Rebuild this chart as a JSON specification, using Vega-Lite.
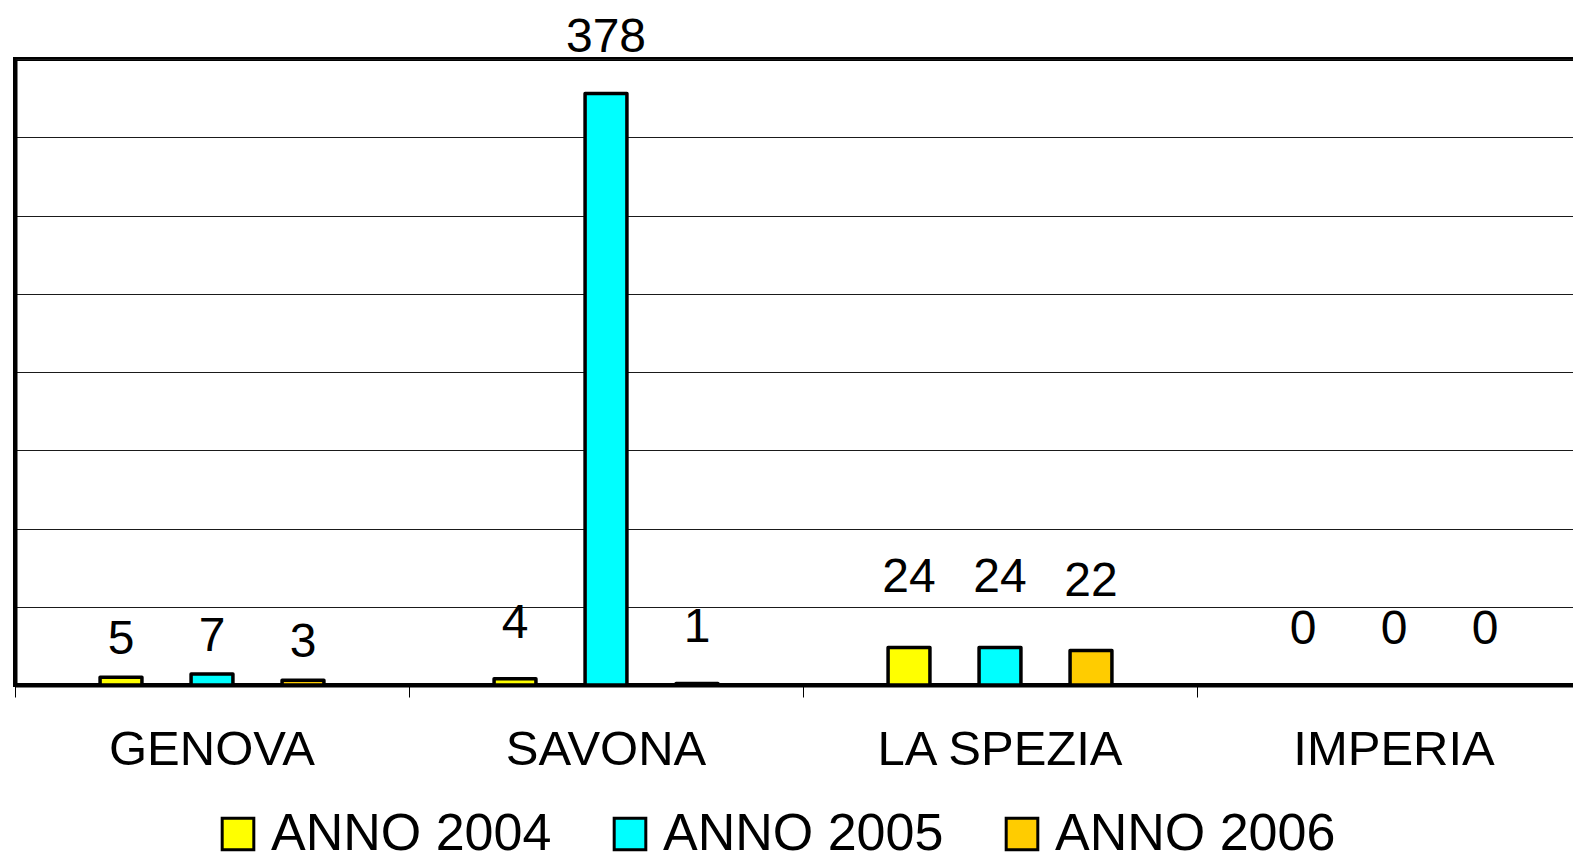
{
  "$schema": "https://vega.github.io/schema/vega-lite/v6.json",
  "autosize": "none",
  "padding": {"left": 15, "top": 59, "right": 0, "bottom": 176},
  "width": 1576,
  "height": 626,
  "background": "white",
  "config": {
    "font": "Liberation Sans",
    "view": {"stroke": "black", "strokeWidth": 4}
  },
  "data": {
    "values": [
      {"city": "GENOVA", "year": "ANNO 2004", "value": 5},
      {"city": "GENOVA", "year": "ANNO 2005", "value": 7},
      {"city": "GENOVA", "year": "ANNO 2006", "value": 3},
      {"city": "SAVONA", "year": "ANNO 2004", "value": 4},
      {"city": "SAVONA", "year": "ANNO 2005", "value": 378},
      {"city": "SAVONA", "year": "ANNO 2006", "value": 1},
      {"city": "LA SPEZIA", "year": "ANNO 2004", "value": 24},
      {"city": "LA SPEZIA", "year": "ANNO 2005", "value": 24},
      {"city": "LA SPEZIA", "year": "ANNO 2006", "value": 22},
      {"city": "IMPERIA", "year": "ANNO 2004", "value": 0},
      {"city": "IMPERIA", "year": "ANNO 2005", "value": 0},
      {"city": "IMPERIA", "year": "ANNO 2006", "value": 0}
    ]
  },
  "encoding": {
    "x": {
      "field": "city", "type": "nominal",
      "sort": ["GENOVA", "SAVONA", "LA SPEZIA", "IMPERIA"],
      "scale": {"paddingInner": 0, "paddingOuter": 0},
      "axis": {
        "title": null,
        "labelAngle": 0,
        "bandPosition": 0,
        "labelFont": "Liberation Sans",
        "labelFontSize": 49,
        "labelColor": "black",
        "labelLimit": 0,
        "labelPadding": 28,
        "domainColor": "black",
        "domainWidth": 4,
        "tickColor": "black",
        "tickWidth": 1,
        "tickSize": 12,
        "grid": false
      }
    },
    "xOffset": {
      "field": "year", "type": "nominal",
      "sort": ["ANNO 2004", "ANNO 2005", "ANNO 2006"],
      "scale": {"paddingInner": 0.54, "paddingOuter": 0.935}
    },
    "y": {
      "field": "value", "type": "quantitative",
      "scale": {"domain": [0, 400], "nice": false},
      "axis": {
        "title": null,
        "labels": false,
        "ticks": false,
        "values": [0, 50, 100, 150, 200, 250, 300, 350, 400],
        "domainColor": "black",
        "domainWidth": 4,
        "grid": true,
        "gridColor": "#1a1a1a",
        "gridWidth": 1
      }
    }
  },
  "layer": [
    {
      "mark": {"type": "bar", "stroke": "black", "strokeWidth": 3.5, "strokeJoin": "round"},
      "encoding": {
        "color": {
          "field": "year", "type": "nominal",
          "scale": {"domain": ["ANNO 2004", "ANNO 2005", "ANNO 2006"], "range": ["#FFFF00", "#00FFFF", "#FFCC00"]},
          "legend": {
            "title": null,
            "orient": "none",
            "direction": "horizontal",
            "columns": 3,
            "legendX": 197,
            "legendY": 749,
            "padding": 0,
            "symbolType": "square",
            "symbolSize": 1000,
            "symbolStrokeColor": "black",
            "symbolStrokeWidth": 3,
            "symbolOpacity": 1,
            "labelFont": "Liberation Sans",
            "labelFontSize": 52,
            "labelColor": "black",
            "labelOffset": 7,
            "labelLimit": 0,
            "columnPadding": 52
          }
        }
      }
    },
    {
      "transform": [{"filter": "datum.city === 'SAVONA' || datum.city === 'IMPERIA'"}],
      "mark": {"type": "text", "baseline": "alphabetic", "dy": -41, "fontSize": 48, "font": "Liberation Sans", "color": "black"},
      "encoding": {"text": {"field": "value", "type": "quantitative"}}
    },
    {
      "transform": [{"filter": "datum.city === 'GENOVA'"}],
      "mark": {"type": "text", "baseline": "alphabetic", "dy": -23, "fontSize": 48, "font": "Liberation Sans", "color": "black"},
      "encoding": {"text": {"field": "value", "type": "quantitative"}}
    },
    {
      "transform": [{"filter": "datum.city === 'LA SPEZIA'"}],
      "mark": {"type": "text", "baseline": "alphabetic", "dy": -55, "fontSize": 48, "font": "Liberation Sans", "color": "black"},
      "encoding": {"text": {"field": "value", "type": "quantitative"}}
    }
  ]
}
